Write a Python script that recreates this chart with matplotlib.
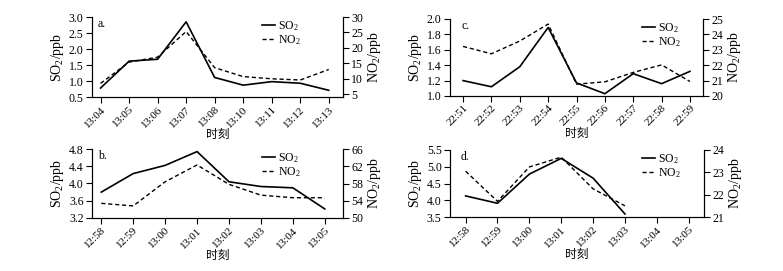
import matplotlib
matplotlib.use('Agg')
import matplotlib.pyplot as plt

plt.rcParams['font.family'] = ['Liberation Serif', 'Noto Sans CJK SC']
plt.rcParams['mathtext.fontset'] = 'custom'
plt.rcParams['mathtext.rm'] = 'Liberation Serif'
plt.rcParams['mathtext.it'] = 'Liberation Serif:italic'
plt.rcParams['font.size'] = 8.5

# Panel a
times_a = ['13:04', '13:05', '13:06', '13:07', '13:08', '13:10', '13:11', '13:12', '13:13']
so2_a = [0.78, 1.62, 1.68, 2.85, 1.11, 0.87, 0.98, 0.93, 0.71]
no2_a = [8.5, 15.4, 17.0, 25.3, 13.6, 10.7, 10.0, 9.6, 13.0]

# Panel b
times_b = ['12:58', '12:59', '13:00', '13:01', '13:02', '13:03', '13:04', '13:05']
so2_b = [3.80, 4.23, 4.42, 4.74, 4.04, 3.93, 3.90, 3.41]
no2_b = [53.4, 52.8, 58.4, 62.3, 57.8, 55.3, 54.7, 54.7]

# Panel c
times_c = ['22:51', '22:52', '22:53', '22:54', '22:55', '22:56', '22:57', '22:58', '22:59']
so2_c = [1.20, 1.12, 1.38, 1.89, 1.17, 1.03, 1.29, 1.16, 1.32]
no2_c = [23.22, 22.74, 23.57, 24.67, 20.77, 20.92, 21.53, 22.02, 20.94]

# Panel d
times_d = ['12:58', '12:59', '13:00', '13:01', '13:02', '13:03', '13:04', '13:05']
so2_d = [4.13, 3.91, 4.78, 5.25, 4.66, 3.59]
no2_d = [23.05, 21.70, 23.24, 23.68, 22.26, 21.50]

W, H = 783, 271
fig = plt.figure(figsize=(W / 100, H / 100), dpi=100)


def panel(box, leg_x, lab_dx, label, times, so2, no2, xlim, ylim1, yt1, ylim2, yt2):
    l, t, r, b = box
    ax = fig.add_axes([l / W, 1 - b / H, (r - l) / W, (b - t) / H])
    ax2 = ax.twinx()
    x = list(range(len(times)))
    h1, = ax.plot(x[:len(so2)], so2, color='black', lw=1.2)
    h2, = ax2.plot(x[:len(no2)], no2, color='black', lw=1.0, ls='--', dashes=(3, 2))
    ax.set_xlim(*xlim)
    ax.set_ylim(*ylim1)
    ax.set_yticks(yt1)
    ax.set_yticklabels(['{:.1f}'.format(v) for v in yt1])
    ax2.set_ylim(*ylim2)
    ax2.set_yticks(yt2)
    ax.set_xticks(x)
    ax.set_xticklabels(times, rotation=45, ha='right', rotation_mode='anchor', fontsize=8)
    for a in (ax, ax2):
        a.spines['top'].set_visible(False)
        a.tick_params(direction='out', length=4, width=0.8, pad=2)
        for s in a.spines.values():
            s.set_linewidth(0.8)
    ax.tick_params(axis='x', pad=1.5)
    ax.set_ylabel('SO$_2$/ppb', fontsize=10, labelpad=2)
    ax2.set_ylabel('NO$_2$/ppb', fontsize=10, labelpad=2)
    ax.set_xlabel('时刻', labelpad=0)
    ax.text(lab_dx / (r - l), 0.99, label, transform=ax.transAxes, ha='left', va='top')
    ax.legend([h1, h2], ['SO$_2$', 'NO$_2$'], loc='upper left', frameon=False,
              handlelength=1.1, handletextpad=0.25, labelspacing=0.05,
              borderaxespad=0.0, borderpad=0.0,
              bbox_to_anchor=((leg_x - l) / (r - l), 1 - 2 / (b - t)))


panel((92, 17, 343, 97), 262, 6, 'a.', times_a, so2_a, no2_a, (-0.3, 8.5),
      (0.5, 3.0), [0.5, 1.0, 1.5, 2.0, 2.5, 3.0],
      (4.1, 30), [5, 10, 15, 20, 25, 30])
panel((450, 19, 703, 96), 642, 11, 'c.', times_c, so2_c, no2_c, (-0.46, 8.46),
      (1.0, 2.0), [1.0, 1.2, 1.4, 1.6, 1.8, 2.0],
      (20, 25), [20, 21, 22, 23, 24, 25])
panel((92, 149, 343, 218), 262, 6, 'b.', times_b, so2_b, no2_b, (-0.29, 7.57),
      (3.2, 4.8), [3.2, 3.6, 4.0, 4.4, 4.8],
      (50, 66), [50, 54, 58, 62, 66])
panel((450, 150, 704, 217), 642, 11, 'd.', times_d, so2_d, no2_d, (-0.49, 7.48),
      (3.5, 5.5), [3.5, 4.0, 4.5, 5.0, 5.5],
      (21, 24), [21, 22, 23, 24])

fig.savefig('out.png', dpi=100)
